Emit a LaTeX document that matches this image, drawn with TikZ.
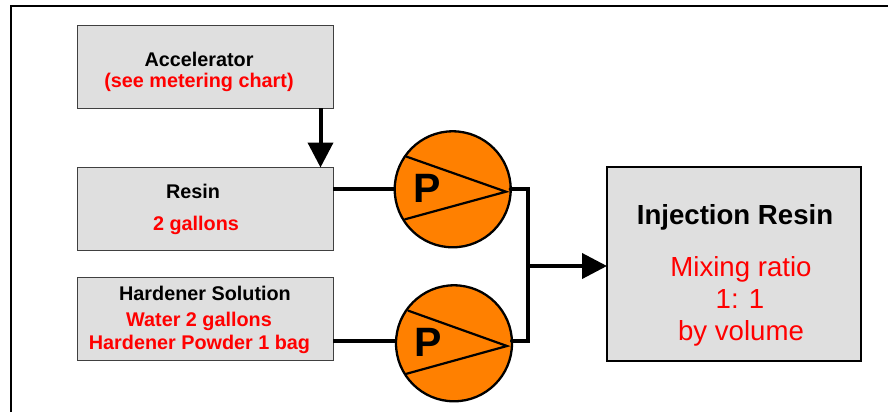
\documentclass[tikz,border=0pt]{standalone}
\usepackage{fontspec}
\setmainfont{Liberation Sans}
\usetikzlibrary{arrows.meta,calc}
\definecolor{boxgray}{HTML}{DFDFDF}
\definecolor{pumporange}{HTML}{FF8000}
\definecolor{labelred}{HTML}{FF0000}
\tikzset{
  feedbox/.style={draw=black!75,line width=1pt,fill=boxgray,minimum width=256pt,minimum height=83pt,inner sep=0pt,outer sep=0pt,align=center},
  mainbox/.style={draw=black,line width=2.6pt,fill=boxgray,minimum width=254pt,minimum height=194pt,inner sep=0pt,outer sep=0pt},
  pumpnode/.style={circle,draw=black,line width=2.3pt,fill=pumporange,minimum size=116pt,inner sep=0pt,outer sep=0pt},
  pipe/.style={draw=black,line width=4pt},
  flow/.style={pipe,-{Triangle[length=25pt,width=25pt]}},
  vane/.style={draw=black,line width=2.2pt,line cap=round},
  smalltxt/.style={font=\fontsize{19.8}{22}\selectfont\bfseries,inner sep=0pt},
  redtxt/.style={smalltxt,text=labelred},
  bigred/.style={font=\fontsize{27.6}{30}\selectfont,text=labelred,inner sep=0pt}
}
\begin{document}
\begin{tikzpicture}[x=1pt,y=-1pt]
\useasboundingbox[fill=white] (0,0) rectangle (888,412);
\draw[black,line width=2.6pt] (11,412) -- (11,6) -- (888,6);
\node[feedbox] (acc) at (205,66.7) {};
\node[feedbox] (resin) at (205,209.2) {};
\node[feedbox] (hard) at (205,319) {};
\node[mainbox] (inj) at (734,264) {};
\node[smalltxt] (t1) at (199,59.5) {Accelerator};
\node[redtxt] (t2) at (199,82.5) {(see metering chart)};
\node[smalltxt] (t3) at (193,191) {Resin};
\node[redtxt] (t4) at (196,225) {2 gallons};
\node[smalltxt] (t5) at (205,293.5) {Hardener Solution};
\node[redtxt] (t6) at (199,321.5) {Water 2 gallons};
\node[redtxt] (t7) at (199.5,344) {Hardener Powder 1 bag};
\node[font=\fontsize{27.6}{30}\selectfont\bfseries,inner sep=0pt] (t8) at (735,217.5) {Injection Resin};
\node[bigred] (t9) at (741,269.5) {Mixing ratio};
\node[bigred] (t10) at (740,299) {1: 1};
\node[bigred] (t11) at (741,333.5) {by volume};
\node[pumpnode] (p1) at (452.7,189.3) {};
\node[pumpnode] (p2) at (454,343.3) {};
\coordinate (tipa) at (506,191.7);
\coordinate (tipb) at (507,346);
\draw[vane] (406.7,156.7) -- (tipa) -- (405,219.3);
\draw[vane] (408.3,310.7) -- (tipb) -- (405.7,374);
\node[font=\fontsize{41}{44}\selectfont\bfseries,inner sep=0pt] (pa) at (427,188) {P};
\node[font=\fontsize{41}{44}\selectfont\bfseries,inner sep=0pt] (pb) at (428,342) {P};
\coordinate (busa) at (528,189.3);
\coordinate (busb) at (528,341);
\coordinate (busm) at (528,266);
\coordinate (accout) at (320.5,108);
\coordinate (resinin) at (320.5,167.5);
\draw[flow] (accout) -- (resinin);
\draw[pipe] (resin.east |- p1.west) -- (p1.west);
\draw[pipe] (333,341) -- (p2.west |- 0,341);
\draw[pipe,line cap=round] (p1.east) -- (busa) -- (busb) -- (512,341);
\draw[flow] (busm) -- (inj.west |- busm);
\end{tikzpicture}
\end{document}
